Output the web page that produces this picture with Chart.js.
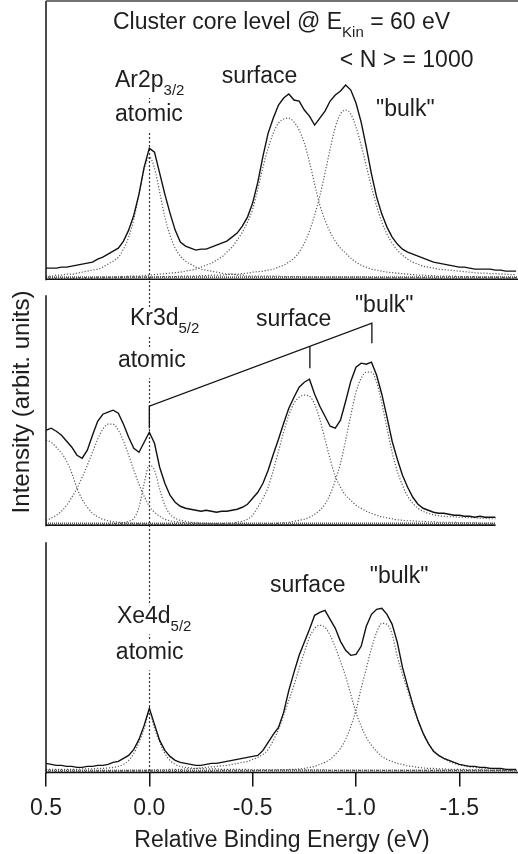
<!DOCTYPE html>
<html>
<head>
<meta charset="utf-8">
<title>Cluster core level spectra</title>
<script src="https://cdn.jsdelivr.net/npm/chart.js@4.4.1/dist/chart.umd.min.js"></script>
<style>
  html, body { margin: 0; padding: 0; background: #fff; }
  #wrap { width: 518px; height: 854px; }
</style>
</head>
<body>
<div id="wrap"><canvas id="chart" width="518" height="854"></canvas></div>
<script>
// relative binding energy grid (eV), read every 0.025 eV
var energy = [
  0.5, 0.475, 0.45, 0.425, 0.4, 0.375, 0.35, 0.325, 0.3, 0.275,
  0.25, 0.225, 0.2, 0.175, 0.15, 0.125, 0.1, 0.075, 0.05, 0.025,
  0, -0.025, -0.05, -0.075, -0.1, -0.125, -0.15, -0.175, -0.2, -0.225,
  -0.25, -0.275, -0.3, -0.325, -0.35, -0.375, -0.4, -0.425, -0.45, -0.475,
  -0.5, -0.525, -0.55, -0.575, -0.6, -0.625, -0.65, -0.675, -0.7, -0.725,
  -0.75, -0.775, -0.8, -0.825, -0.85, -0.875, -0.9, -0.925, -0.95, -0.975,
  -1, -1.025, -1.05, -1.075, -1.1, -1.125, -1.15, -1.175, -1.2, -1.225,
  -1.25, -1.275, -1.3, -1.325, -1.35, -1.375, -1.4, -1.425, -1.45, -1.475,
  -1.5, -1.525, -1.55, -1.575, -1.6, -1.625, -1.65, -1.675, -1.7, -1.725,
  -1.75, -1.775
];
var xTicks = [-1.5, -1.0, -0.5, 0.0, 0.5];

// Ar 2p3/2 panel
var arMeasured = [
  11, 11, 11, 12, 12, 13, 14, 15, 16, 17,
  20, 22, 25, 28, 31, 38, 49, 64, 85, 112,
  131, 127, 106, 85, 66, 49, 37, 33, 31, 29,
  30, 30, 32, 34, 36, 38, 42, 46, 53, 62,
  76, 97, 123, 146, 161, 174, 181, 185, 179, 178,
  169, 163, 154, 161, 168, 178, 184, 188, 194, 189,
  176, 157, 132, 105, 82, 65, 52, 42, 35, 30,
  27, 25, 23, 21, 19, 17, 16, 15, 14, 13,
  12, 12, 11, 10, 10, 10, 10, 9, 9, 8,
  8, 8
];
var arAtomic = [
  3, 3, 4, 4, 5, 5, 6, 7, 8, 9,
  10, 12, 15, 18, 22, 30, 42, 60, 85, 110,
  122, 111, 87, 62, 44, 31, 23, 18, 15, 12,
  10, 9, 8, 7, 6, 5, 5, 4, 4, 3,
  3, 3, 3, 3, 3, 3, 2.5, 2.5, 2.5, 2.5,
  2, 2, 2, 2, 2, 2, 2, 2, 2, 2,
  2, 2, 2, 1.5, 1.5, 1.5, 1.5, 1.5, 1.5, 1.5,
  1.5, 1.5, 1.5, 1.5, 1.5, 1, 1, 1, 1, 1,
  1, 1, 1, 1, 1, 1, 1, 1, 1, 1,
  1, 1
];
var arSurface = [
  1, 1, 1, 1, 1, 1, 1.5, 1.5, 1.5, 1.5,
  2, 2, 2, 2, 2.5, 2.5, 3, 3, 3, 3.5,
  4, 4.5, 5, 5.5, 6, 6.5, 7, 8, 9, 10,
  12, 14, 16, 19, 22, 27, 32, 39, 47, 57,
  70, 90, 112, 131, 146, 156, 160, 161, 157, 149,
  136, 117, 95, 74, 59, 47, 38, 31, 26, 21,
  17, 14, 12, 10, 9, 8, 7, 6.5, 6, 5.5,
  5, 4.5, 4, 4, 3.5, 3.5, 3, 3, 3, 3,
  2.5, 2.5, 2.5, 2.5, 2, 2, 2, 2, 2, 1.5,
  1.5, 1.5
];
var arBulk = [
  0.5, 0.5, 0.5, 0.5, 0.5, 0.5, 1, 1, 1, 1,
  1, 1, 1.5, 1.5, 1.5, 1.5, 2, 2, 2, 2,
  2, 2, 2.5, 2.5, 2.5, 2.5, 3, 3, 3, 3,
  3.5, 3.5, 4, 4, 4, 4.5, 5, 5, 5.5, 6,
  7, 7.5, 8, 9, 10, 12, 14, 17, 21, 27,
  36, 48, 64, 83, 106, 130, 152, 165, 169, 165,
  152, 134, 113, 92, 73, 57, 45, 36, 29, 24,
  20, 17, 15, 13, 12, 11, 10, 9.5, 9, 8.5,
  8, 7.5, 7, 6.5, 6, 6, 5.5, 5.5, 5, 5,
  4.5, 4.5
];

// Kr 3d5/2 panel (recorded only down to -1.675 eV)
var krMeasured = [
  95, 97, 94, 90, 84, 78, 70, 67, 75, 90,
  104, 111, 113, 115, 112, 101, 88, 77, 73, 83,
  93, 82, 58, 42, 30, 23, 19, 17, 16, 15,
  14, 15, 14, 13, 14, 14, 15, 16, 18, 21,
  27, 33, 42, 55, 71, 86, 102, 117, 128, 138,
  143, 146, 131, 119, 109, 99, 97, 105, 124, 144,
  158, 162, 161, 163, 150, 131, 108, 84, 66, 50,
  38, 28, 21, 17, 15, 13, 12, 12, 11, 10,
  10, 9, 9, 8, 9, 8, 8, 8
];
var krOuter = [
  85, 83, 78, 72, 64, 52, 37, 26, 18, 12,
  8.5, 6, 4.5, 3.5, 3, 2.5, 2, 2, 1.5, 1.5,
  1, 1, 1, 1, 1, 0.5, 0.5, 0.5, 0.5, 0.5,
  0.5, 0.5, 0.5, 0.5, 0.5, 0.5, 0.5, 0.5, 0.5, 0.5,
  0.5, 0.5, 0.5, 0.5, 0.5, 0.5, 0.5, 0.5, 0.5, 0.5,
  0.5, 0.5, 0.5, 0.5, 0.5, 0.5, 0.5, 0.5, 0.5, 0.5,
  0.5, 0.5, 0.5, 0.5, 0.5, 0.5, 0.5, 0.5, 0.5, 0.5,
  0.5, 0.5, 0.5, 0.5, 0.5, 0.5, 0.5, 0.5, 0.5, 0.5,
  0.5, 0.5, 0.5, 0.5, 0.5, 0.5, 0.5, 0.5
];
var krInner = [
  5, 7, 10, 14, 20, 28, 37, 48, 60, 73,
  86, 96, 101, 101, 95, 84, 70, 55, 41, 29,
  19, 13, 9, 6, 4.5, 3.5, 3, 2.5, 2, 2,
  1.5, 1.5, 1.5, 1, 1, 1, 1, 1, 1, 1,
  0.5, 0.5, 0.5, 0.5, 0.5, 0.5, 0.5, 0.5, 0.5, 0.5,
  0.5, 0.5, 0.5, 0.5, 0.5, 0.5, 0.5, 0.5, 0.5, 0.5,
  0.5, 0.5, 0.5, 0.5, 0.5, 0.5, 0.5, 0.5, 0.5, 0.5,
  0.5, 0.5, 0.5, 0.5, 0.5, 0.5, 0.5, 0.5, 0.5, 0.5,
  0.5, 0.5, 0.5, 0.5, 0.5, 0.5, 0.5, 0.5
];
var krAtomic = [
  0.5, 0.5, 0.5, 0.5, 0.5, 0.5, 0.5, 0.5, 1, 1,
  1, 1, 1, 1.5, 1.5, 2.5, 4, 7, 18, 42,
  60, 55, 36, 20, 11, 7, 5, 4, 3, 2.5,
  2, 2, 1.5, 1.5, 1.5, 1, 1, 1, 1, 1,
  0.5, 0.5, 0.5, 0.5, 0.5, 0.5, 0.5, 0.5, 0.5, 0.5,
  0.5, 0.5, 0.5, 0.5, 0.5, 0.5, 0.5, 0.5, 0.5, 0.5,
  0.5, 0.5, 0.5, 0.5, 0.5, 0.5, 0.5, 0.5, 0.5, 0.5,
  0.5, 0.5, 0.5, 0.5, 0.5, 0.5, 0.5, 0.5, 0.5, 0.5,
  0.5, 0.5, 0.5, 0.5, 0.5, 0.5, 0.5, 0.5
];
var krSurface = [
  0.5, 0.5, 0.5, 0.5, 0.5, 0.5, 0.5, 0.5, 0.5, 0.5,
  0.5, 0.5, 0.5, 0.5, 0.5, 0.5, 0.5, 0.5, 1, 1,
  1, 1, 1, 1, 1, 1, 1, 1, 1, 1.5,
  1.5, 1.5, 1.5, 1.5, 1.5, 2, 2, 3, 4, 6,
  10, 18, 27, 38, 55, 74, 93, 110, 122, 128,
  130, 129, 121, 106, 86, 66, 49, 38, 30, 25,
  20, 17, 14, 12, 10, 8.5, 7.5, 6.5, 5.5, 5,
  4.5, 4.5, 4, 4, 3.5, 3.5, 3, 3, 3, 3,
  2.5, 2.5, 2.5, 2.5, 2, 2, 2, 2
];
var krBulk = [
  0.5, 0.5, 0.5, 0.5, 0.5, 0.5, 0.5, 0.5, 0.5, 0.5,
  0.5, 0.5, 0.5, 0.5, 0.5, 0.5, 0.5, 0.5, 0.5, 0.5,
  0.5, 0.5, 0.5, 0.5, 0.5, 0.5, 0.5, 0.5, 0.5, 0.5,
  0.5, 0.5, 0.5, 0.5, 1, 1, 1, 1, 1, 1,
  1, 1, 1.5, 1.5, 1.5, 2, 2.5, 3, 4, 5,
  6, 8, 11, 15, 21, 31, 45, 62, 85, 110,
  133, 147, 153, 153, 143, 122, 97, 73, 54, 40,
  29, 22, 17, 14, 12, 10.5, 9.5, 9, 8.5, 8.5,
  8, 8, 7.5, 7.5, 7, 7, 6.5, 6.5
];

// Xe 4d5/2 panel
var xeMeasured = [
  9, 8, 7, 7, 6, 6, 5, 5, 6, 6,
  7, 7, 8, 10, 11, 14, 17, 23, 33, 47,
  64, 48, 32, 22, 16, 12, 10, 9, 8, 7,
  7, 8, 9, 9, 10, 11, 12, 13, 14, 15,
  16, 17, 22, 30, 38, 45, 60, 82, 100, 117,
  130, 143, 157, 160, 162, 153, 144, 131, 122, 117,
  118, 126, 146, 158, 163, 164, 158, 148, 130, 105,
  86, 68, 52, 39, 29, 21, 17, 14, 12, 10,
  8, 7, 6, 6, 5, 5, 4, 4, 4, 3,
  3, 3
];
var xeAtomic = [
  3, 3, 3, 3, 3, 3, 3, 3.5, 3.5, 3.5,
  4, 4, 4.5, 5, 6, 8, 12, 19, 30, 44,
  60, 44, 30, 19, 12, 8, 6, 5, 4.5, 4,
  4, 3.5, 3.5, 3.5, 3, 3, 3, 3, 3, 3,
  2.5, 2.5, 2.5, 2.5, 2.5, 2.5, 2.5, 2.5, 2.5, 2.5,
  2.5, 2.5, 2.5, 2.5, 2.5, 2, 2, 2, 2, 2,
  2, 2, 2, 2, 2, 2, 2, 2, 2, 2,
  2, 2, 2, 2, 2, 2, 2, 2, 2, 2,
  2, 2, 2, 2, 2, 2, 2, 2, 2, 2,
  2, 2
];
var xeSurface = [
  1, 1, 1, 1, 1, 1, 1, 1, 1, 1,
  1.5, 1.5, 1.5, 1.5, 1.5, 1.5, 2, 2, 2, 2,
  2, 2.5, 2.5, 2.5, 3, 3, 3, 3.5, 3.5, 4,
  4.5, 5, 5.5, 6, 6.5, 7, 8, 9, 10, 11,
  13, 15, 18, 23, 32, 43, 57, 72, 87, 104,
  120, 135, 144, 147, 145, 137, 125, 111, 96, 78,
  60, 46, 35, 27, 21, 16, 13, 11, 9, 8,
  6.5, 6, 5, 4.5, 4, 4, 3.5, 3.5, 3, 3,
  3, 3, 2.5, 2.5, 2.5, 2.5, 2, 2, 2, 2,
  2, 2
];
var xeBulk = [
  0.5, 0.5, 0.5, 0.5, 0.5, 0.5, 0.5, 0.5, 0.5, 0.5,
  0.5, 0.5, 0.5, 0.5, 0.5, 0.5, 0.5, 0.5, 0.5, 0.5,
  0.5, 0.5, 0.5, 0.5, 1, 1, 1, 1, 1, 1,
  1, 1, 1, 1.5, 1.5, 1.5, 1.5, 1.5, 1.5, 1.5,
  1.5, 2, 2, 2, 2, 2.5, 2.5, 3, 3, 3.5,
  4, 5, 6, 8, 10, 13, 18, 24, 33, 46,
  62, 84, 104, 124, 140, 149, 148, 138, 116, 98,
  82, 66, 52, 39, 29, 22, 17, 14, 11, 9,
  7.5, 6.5, 5.5, 5, 4.5, 4, 4, 3.5, 3, 3,
  2.5, 2.5
];

var FONT = "'Liberation Sans', Arial, Helvetica, sans-serif";
var TEXT_SIZE = 23;
var SUB_SIZE = 15;
var SUB_DROP = 8;

Chart.defaults.font.family = FONT;
Chart.defaults.color = "#1e1e1e";

// panel frames: axis id, top of the left axis line, where the baseline ends
var panels = [
  { axis: "yAr", top: 278, end: -1.784, frame: true },
  { axis: "yKr", top: 230, end: -1.675 },
  { axis: "yXe", top: 230, end: -1.784 }
];

// text labels, placed in data coordinates of their panel
var notes = [
  { axis: "yAr", e: 0.176, v: 250, runs: [["Cluster core level @ E"], ["Kin", 1], [" = 60 eV"]] },
  { axis: "yAr", e: -0.922, v: 212, runs: [["< N > = 1000"]] },
  { axis: "yAr", e: 0.166, v: 192, runs: [["Ar2p"], ["3/2", 1]], mask: true },
  { axis: "yAr", e: 0.166, v: 158, runs: [["atomic"]], mask: true },
  { axis: "yAr", e: -0.351, v: 196, runs: [["surface"]] },
  { axis: "yAr", e: -1.097, v: 163, runs: [['"bulk"']] },
  { axis: "yKr", e: 0.094, v: 200, runs: [["Kr3d"], ["5/2", 1]], mask: true },
  { axis: "yKr", e: 0.152, v: 158, runs: [["atomic"]], mask: true },
  { axis: "yKr", e: -0.516, v: 199, runs: [["surface"]] },
  { axis: "yKr", e: -0.995, v: 213, runs: [['"bulk"']] },
  { axis: "yXe", e: 0.157, v: 149, runs: [["Xe4d"], ["5/2", 1]], mask: true },
  { axis: "yXe", e: 0.162, v: 113, runs: [["atomic"]], mask: true },
  { axis: "yXe", e: -0.584, v: 180, runs: [["surface"]] },
  { axis: "yXe", e: -1.067, v: 189, runs: [['"bulk"']] }
];

// connector lines in the Kr panel
var krMarks = [
  [[0, 97], [0, 119], [-1.077, 202], [-1.077, 182]],
  [[-0.777, 179], [-0.777, 157]]
];

function series(values) {
  return values.map(function (v, i) {
    return { x: energy[i], y: v };
  });
}

function measured(values, axis) {
  return {
    data: series(values),
    yAxisID: axis,
    borderColor: "#111",
    borderWidth: 1.4,
    pointRadius: 0,
    tension: 0,
    order: 0
  };
}

function fitted(values, axis) {
  return {
    data: series(values),
    yAxisID: axis,
    borderColor: "#5a5a5a",
    borderWidth: 1.2,
    borderDash: [1.2, 1.8],
    pointRadius: 0,
    cubicInterpolationMode: "monotone",
    order: 1
  };
}

function drawRuns(ctx, x, y, runs, mask) {
  var parts = runs.map(function (r) {
    var sub = r[1] === 1;
    ctx.font = (sub ? SUB_SIZE : TEXT_SIZE) + "px " + FONT;
    return { t: r[0], sub: sub, w: ctx.measureText(r[0]).width };
  });
  if (mask) {
    var total = parts.reduce(function (s, p) { return s + p.w; }, 0);
    ctx.fillStyle = "#fff";
    ctx.fillRect(x - 2, y - 18, total + 4, 29);
  }
  ctx.fillStyle = "#1e1e1e";
  ctx.textAlign = "left";
  ctx.textBaseline = "alphabetic";
  var cx = x;
  parts.forEach(function (p) {
    ctx.font = (p.sub ? SUB_SIZE : TEXT_SIZE) + "px " + FONT;
    ctx.fillText(p.t, cx, p.sub ? y + SUB_DROP : y);
    cx += p.w;
  });
}

var decor = {
  id: "decor",
  beforeDatasetsDraw: function (chart) {
    var ctx = chart.ctx;
    var xs = chart.scales.x;
    var x0 = Math.round(xs.getPixelForValue(0)) + 0.5;
    ctx.save();
    ctx.strokeStyle = "#333";
    ctx.lineWidth = 1.2;
    ctx.setLineDash([2, 2]);
    ctx.beginPath();
    ctx.moveTo(x0, chart.scales.yAr.getPixelForValue(186));
    ctx.lineTo(x0, chart.scales.yXe.getPixelForValue(0));
    ctx.stroke();
    ctx.restore();
  },
  afterDatasetsDraw: function (chart) {
    var ctx = chart.ctx;
    var xs = chart.scales.x;
    var left = chart.chartArea.left;
    ctx.save();

    panels.forEach(function (p) {
      var ys = chart.scales[p.axis];
      var y0 = ys.getPixelForValue(0);
      var xe = xs.getPixelForValue(p.end);
      // hatched baseline
      ctx.setLineDash([]);
      ctx.strokeStyle = "#111";
      ctx.lineWidth = 1.5;
      ctx.beginPath();
      ctx.moveTo(left, y0);
      ctx.lineTo(xe, y0);
      ctx.stroke();
      ctx.setLineDash([1, 1]);
      ctx.strokeStyle = "#555";
      ctx.lineWidth = 2;
      ctx.beginPath();
      ctx.moveTo(left, y0 - 1.8);
      ctx.lineTo(xe, y0 - 1.8);
      ctx.stroke();
      // left axis
      ctx.setLineDash([]);
      ctx.strokeStyle = "#111";
      ctx.lineWidth = 1.5;
      ctx.beginPath();
      ctx.moveTo(left, y0 + 1);
      ctx.lineTo(left, ys.getPixelForValue(p.top));
      ctx.stroke();
      if (p.frame) {
        ctx.strokeStyle = "#444";
        ctx.beginPath();
        ctx.moveTo(left, ys.getPixelForValue(p.top));
        ctx.lineTo(chart.chartArea.right, ys.getPixelForValue(p.top));
        ctx.stroke();
      }
    });

    ctx.strokeStyle = "#111";
    ctx.lineWidth = 1.3;
    krMarks.forEach(function (line) {
      ctx.beginPath();
      line.forEach(function (pt, i) {
        var px = xs.getPixelForValue(pt[0]);
        var py = chart.scales.yKr.getPixelForValue(pt[1]);
        if (i === 0) ctx.moveTo(px, py);
        else ctx.lineTo(px, py);
      });
      ctx.stroke();
    });

    notes.forEach(function (n) {
      drawRuns(
        ctx,
        xs.getPixelForValue(n.e),
        chart.scales[n.axis].getPixelForValue(n.v),
        n.runs,
        n.mask
      );
    });

    // shared y title
    ctx.translate(left - 24, 402);
    ctx.rotate(-Math.PI / 2);
    ctx.font = "24px " + FONT;
    ctx.fillStyle = "#1e1e1e";
    ctx.textAlign = "center";
    ctx.textBaseline = "middle";
    ctx.fillText("Intensity (arbit. units)", 0, 0);
    ctx.restore();
  }
};

function panelAxis(min, max, weight) {
  return {
    type: "linear",
    display: false,
    position: "left",
    stack: "panels",
    stackWeight: weight,
    min: min,
    max: max
  };
}

new Chart(document.getElementById("chart"), {
  type: "line",
  data: {
    datasets: [
      measured(arMeasured, "yAr"),
      fitted(arAtomic, "yAr"),
      fitted(arSurface, "yAr"),
      fitted(arBulk, "yAr"),
      measured(krMeasured, "yKr"),
      fitted(krOuter, "yKr"),
      fitted(krInner, "yKr"),
      fitted(krAtomic, "yKr"),
      fitted(krSurface, "yKr"),
      fitted(krBulk, "yKr"),
      measured(xeMeasured, "yXe"),
      fitted(xeAtomic, "yXe"),
      fitted(xeSurface, "yXe"),
      fitted(xeBulk, "yXe")
    ]
  },
  options: {
    responsive: false,
    animation: false,
    events: [],
    layout: { padding: { left: 46, right: 0, top: 1, bottom: 0 } },
    plugins: {
      legend: { display: false },
      tooltip: { enabled: false }
    },
    scales: {
      x: {
        type: "linear",
        reverse: true,
        min: -1.784,
        max: 0.5,
        afterBuildTicks: function (scale) {
          scale.ticks = xTicks.map(function (v) {
            return { value: v };
          });
        },
        ticks: {
          autoSkip: false,
          maxRotation: 0,
          padding: 8,
          color: "#1e1e1e",
          font: { size: 23, lineHeight: 1.2 },
          callback: function (v) {
            return Number(v).toFixed(1);
          }
        },
        grid: {
          drawOnChartArea: false,
          drawTicks: true,
          tickLength: 13,
          color: "#111",
          lineWidth: 1.5
        },
        border: { display: false },
        title: {
          display: true,
          text: "Relative Binding Energy (eV)",
          color: "#1e1e1e",
          font: { size: 23, lineHeight: 0.9 },
          padding: { top: 0, bottom: 3.3 }
        }
      },
      yXe: panelAxis(-1, 239, 240),
      yKr: panelAxis(-8, 238, 246),
      yAr: panelAxis(-8, 278, 286)
    }
  },
  plugins: [decor]
});
</script>
</body>
</html>
